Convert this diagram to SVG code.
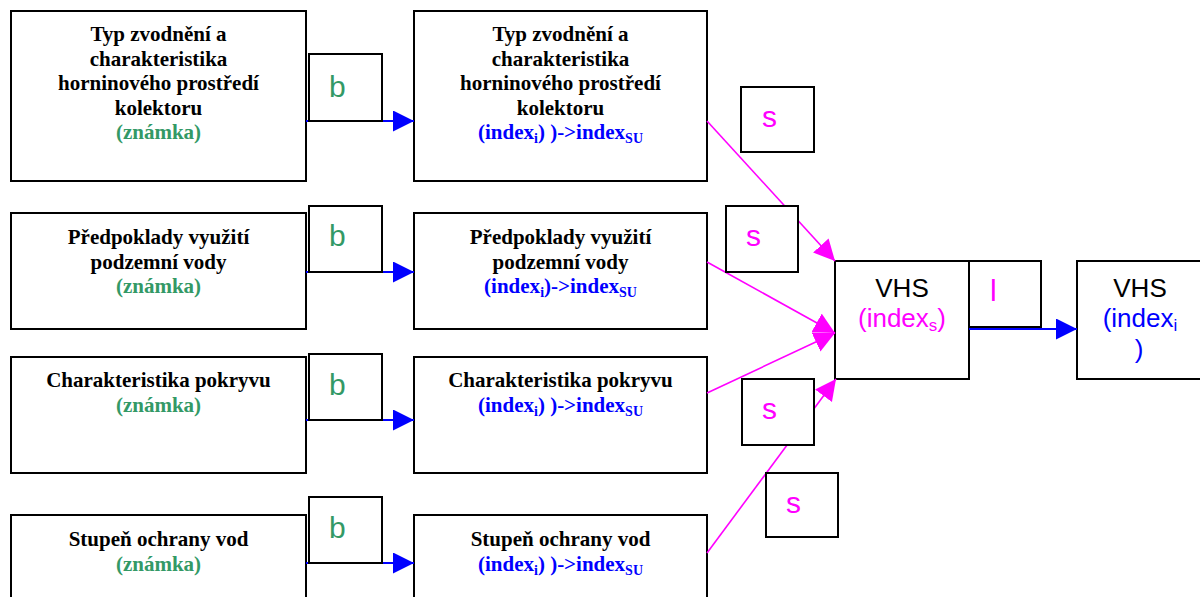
<svg xmlns="http://www.w3.org/2000/svg" width="1200" height="597" viewBox="0 0 1200 597">
<style>
.box{fill:#fff;stroke:#000;stroke-width:2}
.t{font-family:"Liberation Serif","Times New Roman",serif;font-weight:bold;font-size:21px;fill:#000;text-anchor:middle}
.g{fill:#339966}
.bl{fill:#0000ff}
.sub{font-size:14px}
.lab{font-family:"Liberation Sans",Arial,sans-serif;font-size:30px}
.lb{fill:#339966}
.ls{fill:#ff00ff}
.v{font-family:"Liberation Sans",Arial,sans-serif;font-size:26px;text-anchor:middle}
.vs{font-size:17px}
.cb{stroke:#0000ff;stroke-width:2;fill:none}
.cm{stroke:#ff00ff;stroke-width:1.6;fill:none}
</style>
<defs>
<marker id="ab" markerUnits="userSpaceOnUse" markerWidth="22" markerHeight="22" refX="21" refY="10.5" orient="auto" viewBox="0 0 22 22">
<path d="M0,0 L21,10.5 L0,21 z" fill="#0000ff"/>
</marker>
<marker id="am" markerUnits="userSpaceOnUse" markerWidth="22" markerHeight="22" refX="21" refY="10.5" orient="auto" viewBox="0 0 22 22">
<path d="M0,0 L21,10.5 L0,21 z" fill="#ff00ff"/>
</marker>
</defs>

<g id="n-l1"><rect class="box" x="11" y="11" width="295" height="170"/>
<text class="t" x="158.5" y="41">Typ zvodnění a</text>
<text class="t" x="158.5" y="65.5">charakteristika</text>
<text class="t" x="158.5" y="90">horninového prostředí</text>
<text class="t" x="158.5" y="114.5">kolektoru</text>
<text class="t g" x="158.5" y="139">(známka)</text></g>

<g id="n-l2"><rect class="box" x="11" y="213" width="295" height="116"/>
<text class="t" x="158.5" y="244">Předpoklady využití</text>
<text class="t" x="158.5" y="268.5">podzemní vody</text>
<text class="t g" x="158.5" y="293">(známka)</text></g>

<g id="n-l3"><rect class="box" x="11" y="357" width="295" height="116"/>
<text class="t" x="158.5" y="387">Charakteristika pokryvu</text>
<text class="t g" x="158.5" y="411.5">(známka)</text></g>

<g id="n-l4"><rect class="box" x="11" y="515" width="295" height="110"/>
<text class="t" x="158.5" y="546">Stupeň ochrany vod</text>
<text class="t g" x="158.5" y="570.5">(známka)</text></g>

<g id="n-m1"><rect class="box" x="414" y="11" width="293" height="170"/>
<text class="t" x="560.5" y="41">Typ zvodnění a</text>
<text class="t" x="560.5" y="65.5">charakteristika</text>
<text class="t" x="560.5" y="90">horninového prostředí</text>
<text class="t" x="560.5" y="114.5">kolektoru</text>
<text class="t bl" x="560.5" y="139">(index<tspan class="sub" dy="4">i</tspan><tspan dy="-4">) )-&gt;index</tspan><tspan class="sub" dy="4">SU</tspan></text></g>

<g id="n-m2"><rect class="box" x="414" y="213" width="293" height="116"/>
<text class="t" x="560.5" y="244">Předpoklady využití</text>
<text class="t" x="560.5" y="268.5">podzemní vody</text>
<text class="t bl" x="560.5" y="293">(index<tspan class="sub" dy="4">i</tspan><tspan dy="-4">)-&gt;index</tspan><tspan class="sub" dy="4">SU</tspan></text></g>

<g id="n-m3"><rect class="box" x="414" y="357" width="293" height="116"/>
<text class="t" x="560.5" y="387">Charakteristika pokryvu</text>
<text class="t bl" x="560.5" y="411.5">(index<tspan class="sub" dy="4">i</tspan><tspan dy="-4">) )-&gt;index</tspan><tspan class="sub" dy="4">SU</tspan></text></g>

<g id="n-m4"><rect class="box" x="414" y="515" width="293" height="110"/>
<text class="t" x="560.5" y="546">Stupeň ochrany vod</text>
<text class="t bl" x="560.5" y="570.5">(index<tspan class="sub" dy="4">i</tspan><tspan dy="-4">) )-&gt;index</tspan><tspan class="sub" dy="4">SU</tspan></text></g>

<g id="n-vhs-s"><rect class="box" x="835" y="261" width="134" height="118"/>
<text class="v" x="902" y="297">VHS</text>
<text class="v" x="902" y="327" fill="#ff00ff">(index<tspan class="vs" dy="4">s</tspan><tspan dy="-4">)</tspan></text></g>

<g id="n-vhs-i"><rect class="box" x="1077" y="261" width="136" height="118"/>
<text class="v" x="1140" y="297">VHS</text>
<text class="v" x="1140" y="327" fill="#0000ff">(index<tspan class="vs" dy="4">i</tspan></text>
<text class="v" x="1139" y="358" fill="#0000ff">)</text></g>

<g id="connectors">
<line class="cb" x1="306" y1="121" x2="414" y2="121" marker-end="url(#ab)"/>
<line class="cb" x1="306" y1="272" x2="414" y2="272" marker-end="url(#ab)"/>
<line class="cb" x1="306" y1="420" x2="414" y2="420" marker-end="url(#ab)"/>
<line class="cb" x1="306" y1="563" x2="414" y2="563" marker-end="url(#ab)"/>
<line class="cb" x1="969" y1="329" x2="1077" y2="329" marker-end="url(#ab)"/>
<line class="cm" x1="707" y1="121" x2="835" y2="261" marker-end="url(#am)"/>
<line class="cm" x1="707" y1="262" x2="835" y2="333" marker-end="url(#am)"/>
<line class="cm" x1="707" y1="393" x2="835" y2="333" marker-end="url(#am)"/>
<line class="cm" x1="707" y1="553" x2="836" y2="379" marker-end="url(#am)"/>
</g>

<g id="label-b1"><rect class="box" x="309" y="54" width="73" height="67"/><text class="lab lb" x="329" y="97">b</text></g>
<g id="label-b2"><rect class="box" x="309" y="206" width="73" height="66"/><text class="lab lb" x="329" y="246">b</text></g>
<g id="label-b3"><rect class="box" x="309" y="354" width="73" height="66"/><text class="lab lb" x="329" y="395">b</text></g>
<g id="label-b4"><rect class="box" x="309" y="497" width="73" height="66"/><text class="lab lb" x="329" y="538">b</text></g>
<g id="label-s1"><rect class="box" x="741" y="87" width="73" height="65"/><text class="lab ls" x="762" y="127">s</text></g>
<g id="label-s2"><rect class="box" x="726" y="206" width="72" height="66"/><text class="lab ls" x="746" y="246">s</text></g>
<g id="label-s3"><rect class="box" x="742" y="379" width="72" height="66"/><text class="lab ls" x="762" y="419">s</text></g>
<g id="label-s4"><rect class="box" x="766" y="473" width="72" height="64"/><text class="lab ls" x="786" y="513">s</text></g>
<g id="label-l"><rect class="box" x="969" y="261" width="72" height="66"/><text class="lab ls" x="990" y="301">l</text></g>
</svg>
